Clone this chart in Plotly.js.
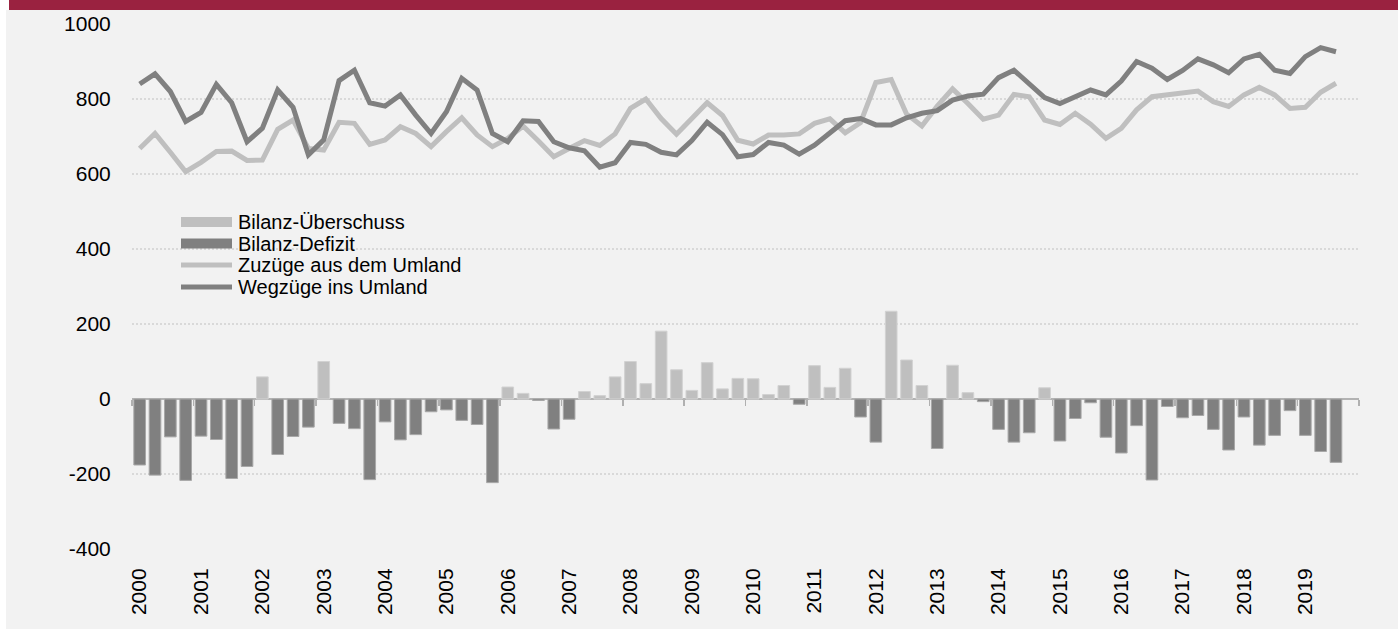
<!DOCTYPE html>
<html><head><meta charset="utf-8">
<script src="https://cdn.plot.ly/plotly-3.0.1.min.js"></script>
<style>
html,body{margin:0;padding:0;background:#fff;width:1398px;height:629px;overflow:hidden}
#band{position:absolute;left:9px;top:0;width:1389px;height:10px;background:#9a2240}
#chart{position:absolute;left:6px;top:10px;width:1392px;height:619px}
</style></head><body>
<div id="band"></div><div id="chart"></div>
<script>
// Years shown on the axis (one label per year, at Q1)
const years = [2000,2001,2002,2003,2004,2005,2006,2007,2008,2009,2010,2011,2012,2013,2014,2015,2016,2017,2018,2019];
const quarterOffsets = [0, 0.25, 0.5, 0.75];

// Quarterly series 2000 Q1 – 2019 Q3
const zuzuege = [668,708,658,606,631,660,661,636,637,719,
                 744,668,664,738,735,679,691,726,708,673,
                 713,750,704,673,695,728,688,646,668,689,
                 676,707,775,800,748,706,748,790,756,690,
                 680,704,704,707,735,747,710,737,844,852,
                 760,728,781,827,788,746,757,812,806,744,
                 732,762,733,695,722,771,806,811,817,821,
                 793,780,811,831,811,775,778,818,842];
const wegzuege = [840,867,820,740,764,839,790,686,722,824,
                  778,651,691,849,877,790,781,811,757,708,
                  766,855,824,708,686,742,740,686,670,662,
                  618,630,684,679,658,651,689,738,705,646,
                  652,684,677,653,677,711,742,748,731,731,
                  750,762,769,797,808,813,857,877,842,804,
                  788,806,824,811,848,900,882,852,876,907,
                  891,870,907,919,877,868,913,937,926];
const bilanz = [-176,-203,-101,-217,-99,-108,-212,-180,59,-148,
                -100,-75,100,-65,-79,-215,-61,-109,-95,-34,
                -29,-57,-68,-223,32,15,-4,-80,-54,20,
                9,59,100,41,181,78,23,97,27,55,
                54,12,36,-14,89,31,82,-48,-115,234,
                104,36,-132,90,17,-7,-81,-115,-90,30,
                -112,-52,-10,-102,-144,-71,-216,-20,-50,-44,
                -81,-136,-48,-123,-97,-31,-97,-140,-169];
const seriesNames = ['Bilanz-Überschuss','Bilanz-Defizit','Zuzüge aus dem Umland','Wegzüge ins Umland'];
const yTicks = [-400,-200,0,200,400,600,800,1000];
const yTickText = ['-400','-200','0','200','400','600','800','1000'];

const xAll = [];
years.forEach(y => quarterOffsets.forEach(q => xAll.push(y + q)));
const x = xAll.slice(0, zuzuege.length);
const ueberschuss = bilanz.map(v => v >= 0 ? v : null);
const defizit = bilanz.map(v => v < 0 ? v : null);

const LIGHT = '#bfbfbf', DARK = '#808080';
const FONT = 'Liberation Sans, Arial, sans-serif';

const traces = [
  {type:'bar', x:x, y:ueberschuss, name:seriesNames[0], width:0.19,
   marker:{color:LIGHT, line:{color:'#d2d2d2', width:1}}, showlegend:false, hoverinfo:'skip'},
  {type:'bar', x:x, y:defizit, name:seriesNames[1], width:0.19,
   marker:{color:DARK, line:{color:'#a8a8a8', width:1}}, showlegend:false, hoverinfo:'skip'},
  {type:'scatter', mode:'lines', x:x, y:zuzuege, name:seriesNames[2],
   line:{color:LIGHT, width:5}, showlegend:false, hoverinfo:'skip'},
  {type:'scatter', mode:'lines', x:x, y:wegzuege, name:seriesNames[3],
   line:{color:DARK, width:5}, showlegend:false, hoverinfo:'skip'},
  {type:'scatter', mode:'none', x:[years[0]-0.125], y:[0], xaxis:'x2', showlegend:false, hoverinfo:'skip'}
];

const yMin = -400, yMax = 1000;
const boundaries = years.map(y => y - 0.125).concat([years[years.length-1] + 0.875]);

// legend drawn as decoration (pixel helper relative to plot area)
const L = 126, T = 14, W = 1227, H = 525;
const px = v => (v - 6 - L) / W;
const py = v => (T + H - (v - 10)) / H;
const shapes = [
  {type:'rect', xref:'paper', yref:'paper', x0:px(181), x1:px(232), y0:py(227), y1:py(217), fillcolor:LIGHT, line:{width:0}},
  {type:'rect', xref:'paper', yref:'paper', x0:px(181), x1:px(232), y0:py(248.5), y1:py(238.5), fillcolor:DARK, line:{width:0}},
  {type:'line', xref:'paper', yref:'paper', x0:px(181), x1:px(232), y0:py(265), y1:py(265), line:{color:LIGHT, width:5}},
  {type:'line', xref:'paper', yref:'paper', x0:px(181), x1:px(232), y0:py(287), y1:py(287), line:{color:DARK, width:5}}
];
const rowsY = [222, 243.5, 265, 287];
const annotations = seriesNames.map((n, i) => ({
  text:n, xref:'paper', yref:'paper', x:px(236), y:py(rowsY[i]), xanchor:'left', yanchor:'middle',
  showarrow:false, font:{family:FONT, size:20, color:'#000'}
}));

const layout = {
  width:1392, height:619,
  margin:{l:L, r:39, t:T, b:80},
  paper_bgcolor:'#f2f2f2', plot_bgcolor:'#f2f2f2',
  font:{family:FONT, color:'#000'},
  barmode:'relative',
  showlegend:false,
  xaxis:{range:[years[0]-0.125, years[years.length-1]+0.875], tickmode:'array', tickvals:years,
         ticktext:years.map(String), tickangle:-90, ticks:'outside', ticklen:10, tickcolor:'rgba(0,0,0,0)',
         tickfont:{size:21, family:FONT, color:'#000'}, showgrid:false, zeroline:false, showline:false, fixedrange:true},
  xaxis2:{overlaying:'x', matches:'x', anchor:'free', position:(0 - yMin)/(yMax - yMin), side:'bottom',
          tickmode:'array', tickvals:boundaries, ticks:'outside', ticklen:6, tickwidth:1.5, tickcolor:'#b0b0b0',
          showticklabels:false, showgrid:false, zeroline:false, showline:false},
  yaxis:{range:[yMin, yMax], tickmode:'array', tickvals:yTicks, ticktext:yTickText, ticks:'outside', ticklen:16, tickcolor:'rgba(0,0,0,0)',
         tickfont:{size:21, family:FONT, color:'#000'}, showgrid:true, gridcolor:'#d9d9d9', gridwidth:2, griddash:'2px,2px',
         zeroline:true, zerolinecolor:'#b3b3b3', zerolinewidth:2, showline:false, fixedrange:true},
  shapes:shapes, annotations:annotations
};
Plotly.newPlot('chart', traces, layout, {staticPlot:true, displayModeBar:false});
</script>
</body></html>
